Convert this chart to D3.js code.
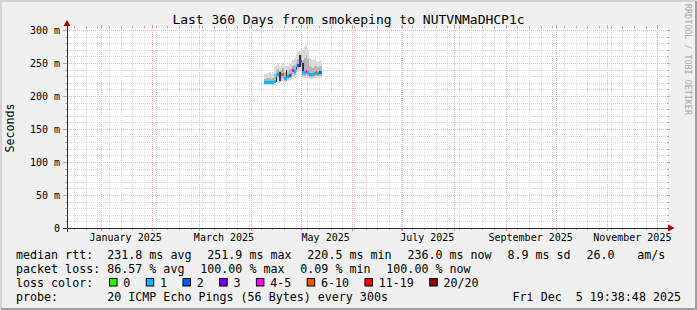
<!DOCTYPE html>
<meta charset="utf-8" />
<style>
  body { margin: 0; background: #f0f0f0; }
  text { font-family: "DejaVu Sans Mono", monospace; white-space: pre; }
</style>
<body>
<div id="grafico"></div>
<script src="https://cdn.jsdelivr.net/npm/d3@7"></script>
<script>
  // eixos / textos
  var titulo = "Last 360 Days from smokeping to NUTVNMaDHCP1c";
  var yTicks = [0, 50, 100, 150, 200, 250, 300];
  var mesesRotulo = ["January 2025", "March 2025", "May 2025", "July 2025", "September 2025", "November 2025"];
  var mesesData = ["2025-01-01", "2025-03-01", "2025-05-01", "2025-07-01", "2025-09-01", "2025-11-01"];

  // dados diarios (ms), a partir de 9 abr 2025
  var primeiroDia = "2025-04-09";
  var mediana = [220.5, 220.6, 221, 220.8, 220.5, 221, 222, 231, 233, 225, 232, 233, 226, 227, 229, 231, 232, 238,
    237, 241, 246, 250, 251.9, 236, 235, 237, 236, 233, 232, 233, 234, 236, 234, 235, 236];
  var perda = [1, 1, 1, 1, 1, 1, 1, 1, 1, 3, 1, 8, 1, 1, 1, 2, 1, 5, 1, 2, 2, 3, 4, 1, 1, 5, 1, 1, 1, 1, 1, 7, 1, 2, 1];
  var fumacaMin = [216, 216, 216, 217, 216, 217, 217, 222, 224, 220, 223, 222, 220, 221, 222, 224, 225, 229,
    228, 232, 236, 238, 240, 228, 227, 228, 228, 226, 226, 226, 227, 228, 228, 228, 229];
  var fumacaMax = [234, 233, 235, 236, 234, 236, 244, 247, 248, 246, 245, 250, 245, 247, 246, 249, 252, 255,
    258, 262, 266, 268, 272, 270, 276, 278, 270, 258, 255, 254, 256, 253, 252, 254, 250];
  var quartil1 = [218, 218, 218, 219, 218, 219, 219, 227, 229, 222, 228, 228, 222, 223, 225, 227, 228, 233,
    232, 236, 241, 245, 247, 231, 230, 232, 231, 229, 228, 229, 230, 231, 230, 231, 231];
  var quartil3 = [226, 226, 227, 227, 226, 228, 234, 240, 241, 238, 240, 242, 236, 237, 238, 241, 242, 246,
    247, 251, 256, 258, 262, 255, 258, 262, 256, 246, 244, 243, 245, 245, 244, 246, 244];
  var escuroLo = [null, null, null, null, null, null, null, 221, null, 224, null, null, null, 225, null, null, null, null,
    null, null, null, 244, null, 236, null, null, null, null, null, null, null, null, null, null, null];
  var escuroHi = [null, null, null, null, null, null, null, 233, null, 236, null, null, null, 240, null, null, null, null,
    null, null, null, 262, null, 250, null, null, null, null, null, null, null, null, null, null, null];

  // legenda
  var linhaRtt = ["median rtt:  231.8 ms avg", "251.9 ms max", "220.5 ms min", "236.0 ms now", "8.9 ms sd", "26.0", " am/s"];
  var linhaPerda = ["packet loss: 86.57 % avg", "100.00 % max", "0.09 % min", "100.00 % now"];
  var corRotulo = ["0", "1", "2", "3", "4-5", "6-10", "11-19", "20/20"];
  var corPerda = ["#26ff00", "#00b8ff", "#0059ff", "#7e00ff", "#ff00ff", "#ff5500", "#ff0000", "#a10000"];
  var corLimite = [0, 1, 2, 3, 5, 10, 19, 20];
  var linhaProbe = "probe:       20 ICMP Echo Pings (56 Bytes) every 300s";
  var dataHora = "Fri Dec  5 19:38:48 2025";

  var largura = 697, altura = 310;
  var x0 = 67, x1 = 667, yBase = 228, yTopo = 28;
  var cw = 7.02, gap = 15.8;
  var corGrade = "#dcdcdc", corGradeM = "#f6b8b8", corTickM = "#ec9090";

  var fim = new Date(2025, 11, 6, 19, 38, 48);
  var inicio = d3.timeDay.offset(fim, -360);
  var x = d3.scaleTime().domain([inicio, fim]).range([x0, x1]);
  var y = d3.scaleLinear().domain([0, 303]).range([yBase, yTopo]);

  var svg = d3.select("#grafico").append("svg")
    .attr("width", largura).attr("height", altura);

  // moldura
  svg.append("rect").attr("width", largura).attr("height", altura).attr("fill", "#f0f0f0");
  svg.append("path").attr("d", "M1," + (altura - 1) + "V1H" + (largura - 1))
    .attr("stroke", "#d4d4d4").attr("stroke-width", 2).attr("fill", "none");
  svg.append("path").attr("d", "M1," + (altura - 1) + "H" + (largura - 1) + "V1")
    .attr("stroke", "#9e9e9e").attr("stroke-width", 2).attr("fill", "none");

  svg.append("rect").attr("x", x0).attr("y", yTopo).attr("width", x1 - x0 + 1).attr("height", yBase - yTopo)
    .attr("fill", "#ffffff");

  var grade = svg.append("g").attr("shape-rendering", "crispEdges");

  // grade horizontal
  var menores = d3.range(0, 301, 10).filter(function (v) { return v % 50 !== 0; });
  menores.forEach(function (v) {
    var yy = Math.round(y(v)) + 0.5;
    grade.append("line").attr("x1", x0).attr("x2", x1).attr("y1", yy).attr("y2", yy)
      .attr("stroke", corGrade).attr("stroke-dasharray", "1,1");
    grade.append("line").attr("x1", x0 - 2).attr("x2", x0).attr("y1", yy).attr("y2", yy).attr("stroke", "#b0b0b0");
    grade.append("line").attr("x1", x1).attr("x2", x1 + 2).attr("y1", yy).attr("y2", yy).attr("stroke", "#b0b0b0");
  });

  // grade vertical (semanas)
  d3.timeMonday.range(inicio, fim).forEach(function (d) {
    if (d.getDate() === 1) return;
    var xx = Math.round(x(d)) + 0.5;
    grade.append("line").attr("x1", xx).attr("x2", xx).attr("y1", yTopo).attr("y2", yBase)
      .attr("stroke", corGrade).attr("stroke-dasharray", "1,1");
    grade.append("line").attr("x1", xx).attr("x2", xx).attr("y1", yTopo - 2).attr("y2", yTopo).attr("stroke", "#b0b0b0");
    grade.append("line").attr("x1", xx).attr("x2", xx).attr("y1", yBase).attr("y2", yBase + 2).attr("stroke", "#b0b0b0");
  });

  yTicks.forEach(function (v) {
    var yy = Math.round(y(v)) + 0.5;
    grade.append("line").attr("x1", x0).attr("x2", x1).attr("y1", yy).attr("y2", yy)
      .attr("stroke", corGradeM).attr("stroke-dasharray", "1,1");
    grade.append("line").attr("x1", x0 - 4).attr("x2", x0).attr("y1", yy).attr("y2", yy).attr("stroke", corTickM);
    grade.append("line").attr("x1", x1).attr("x2", x1 + 3).attr("y1", yy).attr("y2", yy).attr("stroke", corTickM);
  });

  d3.timeMonth.range(d3.timeMonth.ceil(inicio), fim).forEach(function (d) {
    var xx = Math.round(x(d)) + 0.5;
    grade.append("line").attr("x1", xx).attr("x2", xx).attr("y1", yTopo).attr("y2", yBase)
      .attr("stroke", corGradeM).attr("stroke-dasharray", "1,1");
    grade.append("line").attr("x1", xx).attr("x2", xx).attr("y1", yTopo - 3).attr("y2", yTopo).attr("stroke", corTickM);
    grade.append("line").attr("x1", xx).attr("x2", xx).attr("y1", yBase).attr("y2", yBase + 3).attr("stroke", corTickM);
  });

  // fumaca
  var dias = mediana.map(function (m, i) { return d3.timeDay.offset(new Date(primeiroDia + "T00:00:00"), i); });
  var dados = dias.map(function (d, i) {
    return { dia: d, fim: d3.timeDay.offset(d, 1), med: mediana[i], perda: perda[i],
      min: fumacaMin[i], max: fumacaMax[i], q1: quartil1[i], q3: quartil3[i], lo: escuroLo[i], hi: escuroHi[i] };
  });

  var fumaca = svg.append("g").attr("shape-rendering", "crispEdges");
  function faixa(lo, hi, cor) {
    fumaca.selectAll(null)
      .data(dados.filter(function (d) { return d[lo] != null; }))
      .enter().append("rect")
      .attr("x", function (d) { return x(d.dia); })
      .attr("width", function (d) { return x(d.fim) - x(d.dia); })
      .attr("y", function (d) { return y(d[hi]); })
      .attr("height", function (d) { return y(d[lo]) - y(d[hi]); })
      .attr("fill", cor);
  }
  faixa("min", "max", "#dadada");
  faixa("q1", "q3", "#b4b4b4");
  faixa("lo", "hi", "#333333");

  // mediana colorida pela perda
  var corDe = d3.scaleThreshold().domain(corLimite.slice(0, -1).map(function (v) { return v + 0.5; })).range(corPerda);
  svg.append("g").attr("shape-rendering", "crispEdges")
    .selectAll("rect").data(dados).enter().append("rect")
    .attr("x", function (d) { return x(d.dia); })
    .attr("width", function (d) { return x(d.fim) - x(d.dia); })
    .attr("y", function (d) { return y(d.med) - 1.5; })
    .attr("height", 3)
    .attr("fill", function (d) { return corDe(d.perda); });

  // eixos
  svg.append("line").attr("x1", x0 + 0.5).attr("x2", x0 + 0.5).attr("y1", yBase + 4).attr("y2", 24)
    .attr("stroke", "#2c2c2c");
  svg.append("line").attr("x1", x0 - 4).attr("x2", 670).attr("y1", yBase + 0.5).attr("y2", yBase + 0.5)
    .attr("stroke", "#2c2c2c");
  svg.append("path").attr("d", "M63.5,26L70.5,26L67,20Z").attr("fill", "#a00000");
  svg.append("path").attr("d", "M668,224.5L668,231.5L674.5,228Z").attr("fill", "#a00000");

  // rotulos dos eixos
  svg.selectAll(".ylab").data(yTicks).enter().append("text")
    .attr("x", 60).attr("y", function (v) { return y(v) + 3.6; })
    .attr("text-anchor", "end").attr("font-size", "10px")
    .text(function (v) { return v === 0 ? "0" : v + " m"; });

  svg.selectAll(".xlab").data(mesesRotulo).enter().append("text")
    .attr("x", function (t, i) { return x(d3.timeDay.offset(new Date(mesesData[i] + "T00:00:00"), 15)); })
    .attr("y", 241).attr("text-anchor", "middle").attr("font-size", "10px")
    .text(function (t) { return t; });

  svg.append("text").attr("transform", "translate(14," + ((yBase + yTopo) / 2) + ") rotate(-90)")
    .attr("text-anchor", "middle").attr("font-size", "11.66px").text("Seconds");

  svg.append("text").attr("x", 348.5).attr("y", 24).attr("text-anchor", "middle")
    .attr("font-size", "13px").text(titulo);

  svg.append("text").attr("transform", "translate(685,4) rotate(90)")
    .attr("font-size", "8.4px").attr("fill", "#a8a8a8").text("RRDTOOL / TOBI OETIKER");

  // legenda
  function linha(itens, yy) {
    var pos = 16;
    itens.forEach(function (t) {
      svg.append("text").attr("x", pos).attr("y", yy).attr("font-size", "11.66px").text(t);
      pos += t.length * cw + gap;
    });
  }
  linha(linhaRtt, 258.5);
  linha(linhaPerda, 272.5);

  svg.append("text").attr("x", 16).attr("y", 286.5).attr("font-size", "11.66px").text("loss color:");
  var px = 16 + 11 * cw + gap;
  corRotulo.forEach(function (t, i) {
    svg.append("rect").attr("x", px + 0.5).attr("y", 278.5).attr("width", 7.5).attr("height", 7.5)
      .attr("fill", corPerda[i]).attr("stroke", "#000");
    svg.append("text").attr("x", px + 14.3).attr("y", 286.5).attr("font-size", "11.66px").text(t);
    px += 14.3 + t.length * cw + 15.4;
  });

  svg.append("text").attr("x", 16).attr("y", 300.5).attr("font-size", "11.66px").text(linhaProbe);
  svg.append("text").attr("x", 681).attr("y", 300.5).attr("text-anchor", "end")
    .attr("font-size", "11.66px").text(dataHora);
</script>
</body>
